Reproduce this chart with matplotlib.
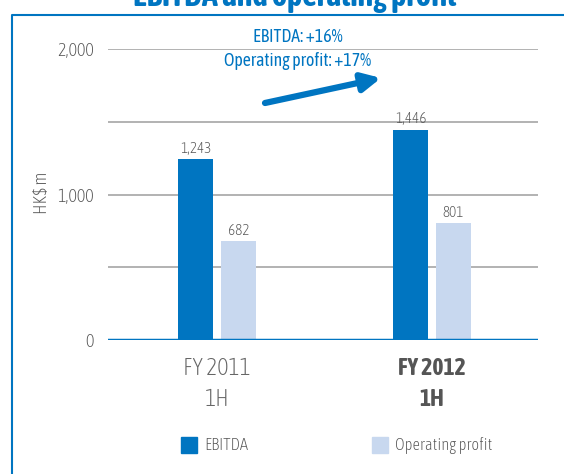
import matplotlib.pyplot as plt
import numpy as np
from matplotlib.lines import Line2D

plt.rcParams['font.family'] = ['Asap Condensed', 'DejaVu Sans']

periods = ['FY 2011\n1H', 'FY 2012\n1H']
ebitda = [1243, 1446]
op_profit = [682, 801]
y_ticks = [0, 1000, 2000]
y_tick_labels = ['0', '1,000', '2,000']

blue = '#0075c1'
light = '#c8d8ef'
grey_txt = '#555555'

fig = plt.figure(figsize=(5.64, 4.74), dpi=100)
ax = fig.add_axes([108 / 564, 1 - 340 / 474, 430 / 564, 291 / 474])

x = np.arange(len(periods))
w = 0.163
off = 0.1
ax.bar(x - off, ebitda, w, color=blue, zorder=3)
ax.bar(x + off, op_profit, w, color=light, zorder=3)

for xi, v in zip(x, ebitda):
    ax.text(xi - off, v + 22, f'{v:,}', ha='center', va='bottom', fontsize=11, color=grey_txt,
            fontweight='light')
for xi, v in zip(x, op_profit):
    ax.text(xi + off, v + 22, f'{v:,}', ha='center', va='bottom', fontsize=11, color=grey_txt,
            fontweight='light')

ax.set_xlim(-0.507, 1.493)
ax.set_ylim(0, 2000)
for g in [500, 1000, 1500, 2000]:
    ax.axhline(g, color='#a6a6a6', lw=1.2, zorder=1)
ax.axhline(0, color=blue, lw=2.5, zorder=4)

for s in ax.spines.values():
    s.set_visible(False)
ax.set_yticks(y_ticks)
ax.set_yticklabels(y_tick_labels, fontsize=13, color=grey_txt, fontweight='light')
ax.tick_params(axis='y', length=0, pad=10)
ax.set_xticks([])
ax.set_ylabel('HK$ m', fontsize=13, color=grey_txt, fontweight='light')
ax.yaxis.set_label_coords(-0.133, 0.505)

# period labels
ax.text(0, -115, periods[0], ha='center', va='top', fontsize=17, color='#666666',
        linespacing=1.45, fontweight='light')
ax.text(1, -115, periods[1], ha='center', va='top', fontsize=17, color='#555555',
        fontweight='bold', linespacing=1.45)

# growth annotation
fig.text(298 / 564, 1 - 37 / 474, 'EBITDA: +16%', ha='center', va='center', fontsize=12.8, color=blue)
fig.text(298 / 564, 1 - 61 / 474, 'Operating profit: +17%', ha='center', va='center', fontsize=12.8, color=blue)
ax.annotate('', xy=(381 / 564, 1 - 78 / 474), xytext=(265 / 564, 1 - 103 / 474),
            xycoords='figure fraction', textcoords='figure fraction',
            arrowprops=dict(arrowstyle='-|>,head_length=1.1,head_width=0.55', color=blue, lw=4.5,
                            shrinkA=0, shrinkB=0))

# legend
h1 = Line2D([], [], marker='s', ls='', markersize=12, color=blue)
h2 = Line2D([], [], marker='s', ls='', markersize=12, color=light)
fig.legend([h1], ['EBITDA'], loc='center left', bbox_to_anchor=(164 / 564, 1 - 446 / 474),
           frameon=False, handlelength=1.2, handletextpad=0.3, labelcolor=grey_txt,
           prop={'weight': 'light', 'size': 12})
fig.legend([h2], ['Operating profit'], loc='center left', bbox_to_anchor=(355 / 564, 1 - 446 / 474),
           frameon=False, handlelength=1.2, handletextpad=0.3, labelcolor=grey_txt,
           prop={'weight': 'light', 'size': 12})

# title cut off at the top and box border
fig.text(295 / 564, 1 - 6 / 474, 'EBITDA and operating profit', ha='center', va='baseline',
         fontsize=23, fontweight='bold', color=blue)
fig.add_artist(Line2D([12 / 564, 12 / 564, 1], [0, 1 - 15 / 474, 1 - 15 / 474],
                      transform=fig.transFigure, color=blue, lw=1.5))

fig.savefig('out.png', dpi=100)
